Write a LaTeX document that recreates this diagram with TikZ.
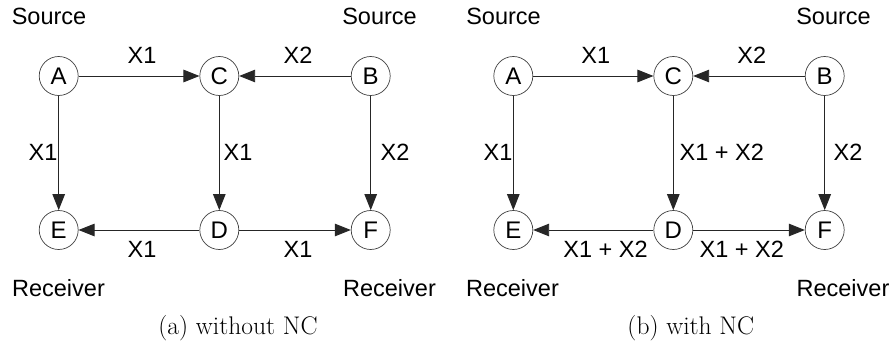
\documentclass[tikz,border=0pt]{standalone}
\usepackage{fontspec}
\newfontfamily\arial{Liberation Sans}
\usetikzlibrary{arrows.meta}
\begin{document}
\begin{tikzpicture}[x=1pt,y=-1pt,
  nd/.style={circle,draw=black!75,line width=0.7pt,minimum size=39pt,inner sep=0pt,font=\arial\fontsize{24}{24}\selectfont},
  lbl/.style={font=\arial\fontsize{23.5}{24}\selectfont,inner sep=0pt},
  captxt/.style={font=\fontsize{25.5}{27}\selectfont,inner sep=0pt},
  conn/.style={draw=black!85,line width=0.9pt,-{Triangle[length=16pt,width=12.5pt]}}]
\useasboundingbox (0,0) rectangle (893,345);
% ---------- panel (a)
\node[nd] (A) at (58.7,76) {A};
\node[nd] (C) at (219.3,76) {C};
\node[nd] (B) at (370.7,76) {B};
\node[nd] (E) at (58.7,230) {E};
\node[nd] (D) at (219.3,230) {D};
\node[nd] (F) at (370.7,230) {F};
\draw[conn] (A) -- (C);
\draw[conn] (B) -- (C);
\draw[conn] (A) -- (E);
\draw[conn] (C) -- (D);
\draw[conn] (B) -- (F);
\draw[conn] (D) -- (E);
\draw[conn] (D) -- (F);
\node[lbl] (s1) at (49,16) {Source};
\node[lbl] (s2) at (379.5,16) {Source};
\node[lbl] (r1) at (58.5,288) {Receiver};
\node[lbl] (r2) at (389.5,288) {Receiver};
\node[lbl] (l1) at (142,55) {X1};
\node[lbl] (l2) at (298,55) {X2};
\node[lbl] (l3) at (43,152) {X1};
\node[lbl] (l4) at (238,152) {X1};
\node[lbl] (l5) at (395,152) {X2};
\node[lbl] (l6) at (142,249) {X1};
\node[lbl] (l7) at (298,249) {X1};
\node[captxt] (ca) at (238,328) {(a) without NC};
% ---------- panel (b)
\node[nd] (A2) at (513.3,76) {A};
\node[nd] (C2) at (673.3,76) {C};
\node[nd] (B2) at (824.7,76) {B};
\node[nd] (E2) at (513.3,230) {E};
\node[nd] (D2) at (673.3,230) {D};
\node[nd] (F2) at (824.7,230) {F};
\draw[conn] (A2) -- (C2);
\draw[conn] (B2) -- (C2);
\draw[conn] (A2) -- (E2);
\draw[conn] (C2) -- (D2);
\draw[conn] (B2) -- (F2);
\draw[conn] (D2) -- (E2);
\draw[conn] (D2) -- (F2);
\node[lbl] (s3) at (503.5,16) {Source};
\node[lbl] (s4) at (833.5,16) {Source};
\node[lbl] (r3) at (512.5,288) {Receiver};
\node[lbl] (r4) at (843,288) {Receiver};
\node[lbl] (m1) at (595.7,55) {X1};
\node[lbl] (m2) at (751.7,55) {X2};
\node[lbl] (m3) at (498,152) {X1};
\node[lbl] (m4) at (721.7,152) {X1 + X2};
\node[lbl] (m5) at (848,152) {X2};
\node[lbl] (m6) at (605.5,249) {X1 + X2};
\node[lbl] (m7) at (741.7,249) {X1 + X2};
\node[captxt] (cb) at (690.8,328) {(b) with NC};
\end{tikzpicture}
\end{document}
